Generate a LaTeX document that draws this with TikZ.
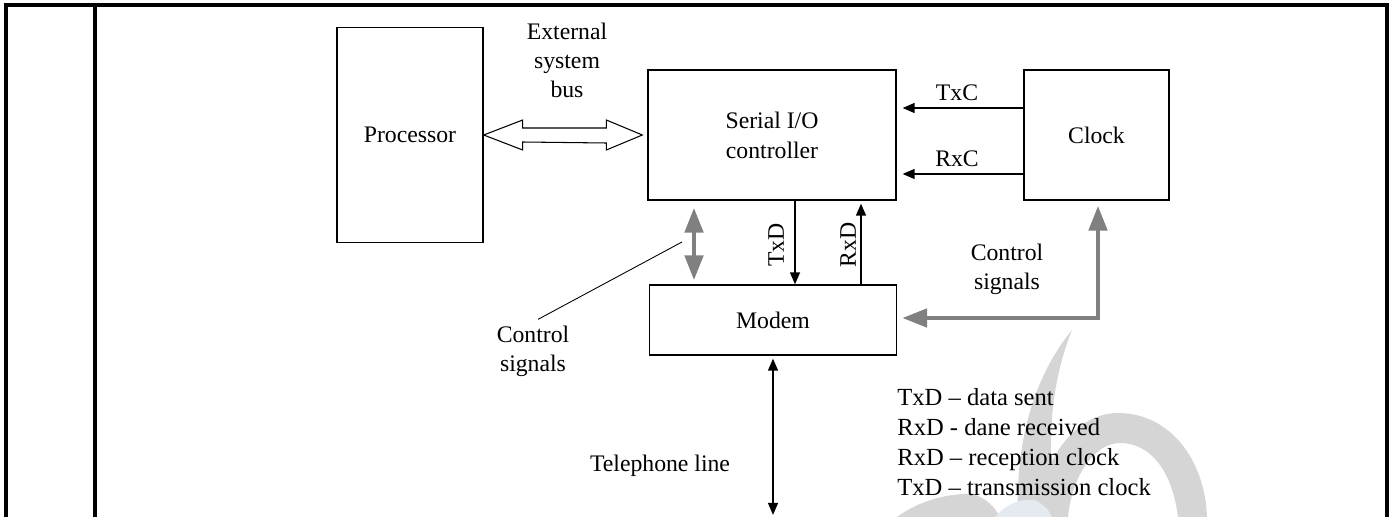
\documentclass[tikz,border=0pt]{standalone}
\usepackage{fontspec}
\setmainfont{Liberation Serif}
\usetikzlibrary{arrows.meta, positioning, calc}
\definecolor{ctrlgray}{HTML}{808080}
\definecolor{markgray}{HTML}{D5D5D5}
\definecolor{markblue}{HTML}{E4EAF0}
\tikzset{
    unit box/.style={
        draw,
        line width=0.8pt,
        align=center,
        inner sep=0pt,
        font=\fontsize{13.5}{17}\selectfont
    },
    label text/.style={
        font=\fontsize{13.5}{16.5}\selectfont,
        align=center,
        inner sep=0pt
    },
    data line/.style={
        line width=0.8pt,
        -{Triangle[length=2.4mm, width=2mm]}
    },
    ctrl line/.style={
        ctrlgray,
        line width=2.8pt,
        {Triangle[length=5mm, width=3.6mm]}-{Triangle[length=5mm, width=3.6mm]}
    },
    frame line/.style={
        line width=1.8pt
    }
}

\begin{document}
\begin{tikzpicture}[x=0.02cm, y=-0.02cm]
                \useasboundingbox (0,0) rectangle (1393,517);

                % Watermark
                \fill[markgray] (1072,330) .. controls (1035,375) and (1015,440) .. (1018,517) -- (1058,517) .. controls (1045,450) and (1050,385) .. (1072,330) -- cycle;
                \fill[markgray] (1035,517) .. controls (1045,450) and (1080,413) .. (1118,413) .. controls (1170,413) and (1205,460) .. (1207,517) -- (1178,517) .. controls (1172,470) and (1150,443) .. (1120,443) .. controls (1095,443) and (1072,475) .. (1068,517) -- cycle;
                \fill[markgray] (897,517) .. controls (920,500) and (950,493) .. (972,494) .. controls (985,497) and (995,507) .. (1000,517) -- cycle;
                \fill[markblue] (995,517) .. controls (1005,505) and (1020,498) .. (1035,500) .. controls (1045,505) and (1050,512) .. (1052,517) -- cycle;

                % Table frame
                \draw[frame line] (6,517) -- (6,5) -- (1387,5) -- (1387,517);
                \draw[frame line] (95,5) -- (95,517);

                % Blocks
                \node[unit box, minimum width=2.92cm, minimum height=4.3cm] (P) at (410,135) {Processor};
                \node[unit box, minimum width=4.96cm, minimum height=2.6cm] (S) at (772,135) {Serial I/O\\controller};
                \node[unit box, minimum width=2.9cm, minimum height=2.6cm] (C) at (1096.5,135) {Clock};
                \node[unit box, minimum width=4.94cm, minimum height=1.4cm] (M) at (773,320) {Modem};

                % External system bus
                \draw[line width=0.6pt, fill=white] (P.east) -- ++(39,-15) -- ++(0,8) -- ($(S.west)+(-41,-7)$) -- ++(0,-8) -- ($(S.west)+(-5,0)$) -- ++(-36,15) -- ++(0,-7) -- ($(P.east)+(39,7)$) -- ++(0,8) -- cycle;
                \node[label text] (EB) at (567,60) {External\\system\\bus};

                % Clock signals
                \draw[data line, shorten >=3.4pt] ([yshift=0.54cm]C.west) -- ([yshift=0.54cm]S.east);
                \draw[data line, shorten >=3.4pt] ([yshift=-0.78cm]C.west) -- ([yshift=-0.78cm]S.east);
                \node[label text] (TxC) at (957,93) {TxC};
                \node[label text] (RxC) at (957,159) {RxC};

                % Data lines
                \draw[data line] ($(S.south)+(23,0)$) -- ($(M.north)+(22,0)$);
                \draw[data line, shorten >=1.7pt] ($(M.north)+(88,0)$) -- ($(S.south)+(89,0)$);
                \node[label text, rotate=90] (TxD) at (776,245) {TxD};
                \node[label text, rotate=90] (RxD) at (848,245) {RxD};

                % Control signals
                \draw[ctrl line] ($(S.south)+(-78,7)$) -- ($(M.north)+(-79,-4)$);
                \node[label text] (CL) at (533,351) {Control\\signals};
                \coordinate (CP) at (682,242);
                \draw[line width=0.5pt] ($(CL.north)+(5,-6)$) -- (CP);
                \draw[ctrl line] ($(M.east)+(5,-2)$) -| ($(C.south)+(1.5,5)$);
                \node[label text] (CR) at (1007,269) {Control\\signals};

                % Telephone line
                \coordinate (T) at (773,517);
                \draw[line width=0.8pt, {Triangle[length=2.4mm, width=2mm]}-{Triangle[length=2.4mm, width=2mm]}, shorten <=1.7pt, shorten >=1.2pt] (M.south) -- (T);
                \node[label text] (TL) at (660,466) {Telephone line};

                % Legend
                \node[label text, align=left, anchor=west, font=\fontsize{14}{17}\selectfont] (L) at (897,442) {
                    TxD -- data sent\\
                    RxD - dane received\\
                    RxD -- reception clock\\
                    TxD -- transmission clock
                };
            \end{tikzpicture}
\end{document}
